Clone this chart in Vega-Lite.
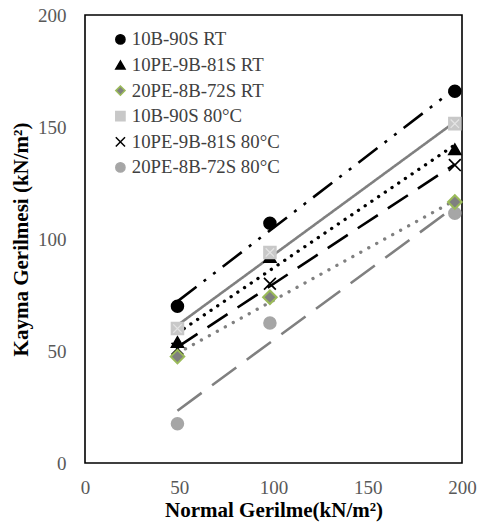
{
  "$schema": "https://vega.github.io/schema/vega-lite/v6.json",
  "width": 377,
  "height": 448,
  "autosize": {"type": "none"},
  "padding": {"left": 85, "top": 15, "right": 17, "bottom": 66},
  "background": "white",
  "data": {
    "values": [
      {"series": "10B-90S RT", "x": 49.05, "y": 70},
      {"series": "10B-90S RT", "x": 98.1, "y": 107},
      {"series": "10B-90S RT", "x": 196.2, "y": 166},
      {"series": "10PE-9B-81S RT", "x": 49.05, "y": 54},
      {"series": "10PE-9B-81S RT", "x": 98.1, "y": 92},
      {"series": "10PE-9B-81S RT", "x": 196.2, "y": 140},
      {"series": "20PE-8B-72S RT", "x": 49.05, "y": 47.5},
      {"series": "20PE-8B-72S RT", "x": 98.1, "y": 74},
      {"series": "20PE-8B-72S RT", "x": 196.2, "y": 116.5},
      {"series": "10B-90S 80°C", "x": 49.05, "y": 60},
      {"series": "10B-90S 80°C", "x": 98.1, "y": 94},
      {"series": "10B-90S 80°C", "x": 196.2, "y": 151.5},
      {"series": "10PE-9B-81S 80°C", "x": 49.05, "y": 51},
      {"series": "10PE-9B-81S 80°C", "x": 98.1, "y": 80},
      {"series": "10PE-9B-81S 80°C", "x": 196.2, "y": 133},
      {"series": "20PE-8B-72S 80°C", "x": 49.05, "y": 17.5},
      {"series": "20PE-8B-72S 80°C", "x": 98.1, "y": 62.5},
      {"series": "20PE-8B-72S 80°C", "x": 196.2, "y": 111.5}
    ]
  },
  "encoding": {
    "x": {
      "field": "x", "type": "quantitative",
      "scale": {"domain": [0, 200], "nice": false, "zero": false},
      "axis": {"values": [0, 50, 100, 150, 200], "title": "Normal Gerilme(kN/m²)", "labelPadding": 15, "titlePadding": 2, "labelFlush": false}
    },
    "y": {
      "field": "y", "type": "quantitative",
      "scale": {"domain": [0, 200], "nice": false, "zero": false},
      "axis": {"values": [0, 50, 100, 150, 200], "title": "Kayma Gerilmesi (kN/m²)", "labelPadding": 19, "titlePadding": 6, "labelFlush": false}
    }
  },
  "layer": [
    {
      "transform": [
        {"filter": "datum.series !== '10PE-9B-81S RT' && datum.series !== '20PE-8B-72S RT'"},
        {"regression": "y", "on": "x", "groupby": ["series"], "extent": [49.05, 196.2]}
      ],
      "mark": {"type": "line", "strokeWidth": 2.6, "strokeCap": "butt"},
      "encoding": {
        "color": {"field": "series", "type": "nominal", "legend": null,
          "scale": {"domain": ["10B-90S RT", "10PE-9B-81S RT", "20PE-8B-72S RT", "10B-90S 80°C", "10PE-9B-81S 80°C", "20PE-8B-72S 80°C"],
                    "range": ["#000000", "#000000", "#808080", "#808080", "#000000", "#808080"]}},
        "strokeDash": {"field": "series", "type": "nominal", "legend": null,
          "scale": {"domain": ["10B-90S RT", "10PE-9B-81S RT", "20PE-8B-72S RT", "10B-90S 80°C", "10PE-9B-81S 80°C", "20PE-8B-72S 80°C"],
                    "range": [[24, 9, 3, 9, 3, 9], [0.1, 8], [0.1, 9], [1, 0], [24, 12], [30, 13]]}}
      }
    },
    {
      "transform": [
        {"filter": "datum.series === '10PE-9B-81S RT' || datum.series === '20PE-8B-72S RT'"},
        {"regression": "y", "on": "x", "groupby": ["series"], "extent": [49.05, 196.2]}
      ],
      "mark": {"type": "line", "strokeWidth": 3.3, "strokeCap": "round"},
      "encoding": {
        "color": {"field": "series", "type": "nominal", "legend": null},
        "strokeDash": {"field": "series", "type": "nominal", "legend": null}
      }
    },
    {
      "mark": {"type": "point", "filled": true, "size": 140, "strokeWidth": 1.7, "opacity": 1},
      "encoding": {
        "shape": {"field": "series", "type": "nominal",
          "legend": {"title": null, "orient": "none", "legendX": 26, "legendY": 15},
          "scale": {"domain": ["10B-90S RT", "10PE-9B-81S RT", "20PE-8B-72S RT", "10B-90S 80°C", "10PE-9B-81S 80°C", "20PE-8B-72S 80°C"],
                    "range": ["circle", "triangle-up", "diamond", "square", "M-1,-1L1,1M-1,1L1,-1", "circle"]}},
        "fill": {"field": "series", "type": "nominal",
          "legend": {"title": null, "orient": "none", "legendX": 26, "legendY": 15},
          "scale": {"domain": ["10B-90S RT", "10PE-9B-81S RT", "20PE-8B-72S RT", "10B-90S 80°C", "10PE-9B-81S 80°C", "20PE-8B-72S 80°C"],
                    "range": ["#000000", "#000000", "#808080", "#c8c8c8", "transparent", "#a6a6a6"]}},
        "stroke": {"field": "series", "type": "nominal",
          "legend": {"title": null, "orient": "none", "legendX": 26, "legendY": 15},
          "scale": {"domain": ["10B-90S RT", "10PE-9B-81S RT", "20PE-8B-72S RT", "10B-90S 80°C", "10PE-9B-81S 80°C", "20PE-8B-72S 80°C"],
                    "range": ["#000000", "#000000", "#9bbb59", "#c8c8c8", "#000000", "#a6a6a6"]}}
      }
    },
    {
      "transform": [{"filter": "datum.series === '20PE-8B-72S RT'"}],
      "mark": {"type": "point", "shape": "diamond", "size": 185, "fill": "#808080", "stroke": "#9bbb59", "strokeWidth": 2, "filled": true, "opacity": 1},
      "encoding": {}
    },
    {
      "transform": [{"filter": "datum.series === '10B-90S 80°C'"}],
      "mark": {"type": "point", "shape": "M-1,-1L1,1M-1,1L1,-1", "size": 70, "stroke": "#e4e4e4", "strokeWidth": 1.2, "filled": false, "opacity": 1},
      "encoding": {}
    }
  ],
  "resolve": {"legend": {"color": "independent", "strokeDash": "independent"}},
  "config": {
    "view": {"stroke": "#000000", "strokeWidth": 1.6},
    "axis": {
      "grid": false, "domain": false, "ticks": false, "tickSize": 0,
      "labelFont": "Liberation Serif", "labelFontSize": 19, "labelColor": "#595959",
      "titleFont": "Liberation Serif", "titleFontSize": 21, "titleFontWeight": "bold", "titleColor": "#000000"
    },
    "legend": {
      "labelFont": "Liberation Serif", "labelFontSize": 18.8, "labelColor": "#404040",
      "symbolSize": 85, "symbolStrokeWidth": 1.5, "labelOffset": 2, "rowPadding": 5.6, "padding": 0,
      "labelLimit": 300
    }
  }
}
